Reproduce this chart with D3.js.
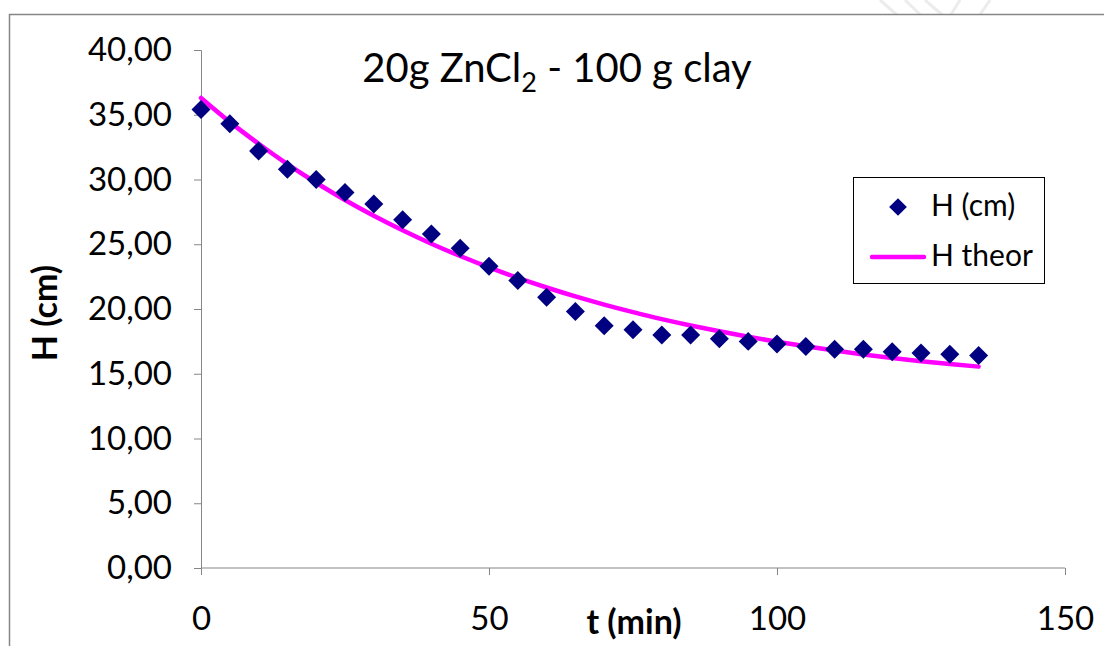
<!DOCTYPE html>
<html><head><meta charset="utf-8">
<script src="https://cdn.jsdelivr.net/npm/d3@7"></script>
<style>
html,body{margin:0;padding:0;background:#fff;}
svg{display:block;}
text{font-family:Lato,"Open Sans",sans-serif;fill:#000;}
</style></head>
<body>
<svg id="chart" width="1104" height="646"></svg>
<script>
const times = [0,5,10,15,20,25,30,35,40,45,50,55,60,65,70,75,80,85,90,95,100,105,110,115,120,125,130,135];
const hMeasured = [35.4,34.3,32.2,30.8,30.0,29.0,28.1,26.9,25.8,24.7,23.3,22.2,20.9,19.8,18.7,18.4,18.0,18.0,17.7,17.5,17.3,17.1,16.9,16.9,16.7,16.6,16.5,16.4];
const hTheor = [36.3,34.45,32.76,31.19,29.75,28.42,27.2,26.08,25.04,24.09,23.21,22.4,21.66,20.97,20.34,19.76,19.22,18.73,18.28,17.86,17.47,17.12,16.79,16.49,16.22,15.97,15.75,15.55];
const xTicks = [0,50,100,150];
const yTicks = [0,5,10,15,20,25,30,35,40];
const seriesNames = ["H (cm)","H theor"];

const svg = d3.select("#chart");
const axisColor = "#868686";

// top faint watermark
const wm = svg.append("g").attr("stroke","#d9d9d9").attr("stroke-width",3).attr("fill","none");
[[880,0,905,22],[905,0,930,24],[960,0,945,24],[990,0,975,22],[925,0,955,26]].forEach(d=>{
  wm.append("line").attr("x1",d[0]).attr("y1",d[1]).attr("x2",d[2]).attr("y2",d[3]).attr("opacity",0.5);
});

// chart frame
svg.append("rect").attr("x",9.5).attr("y",14.5).attr("width",1200).attr("height",700)
  .attr("fill","#fff").attr("stroke",axisColor).attr("stroke-width",1.5);

const x = d3.scaleLinear().domain([0,150]).range([201,1065]);
const y = d3.scaleLinear().domain([0,40]).range([568,50]);

// y axis
const yAxis = svg.append("g").attr("transform","translate(201,0)")
  .call(d3.axisLeft(y).tickValues(yTicks).tickSize(7).tickPadding(22)
    .tickFormat(d=>d3.format(".2f")(d).replace(".",",")));
yAxis.selectAll("path,line").attr("stroke",axisColor);
yAxis.selectAll("text").attr("font-size",33).attr("font-family","Lato, sans-serif").attr("fill","#000");

// x axis
const xAxis = svg.append("g").attr("transform","translate(0,568)")
  .call(d3.axisBottom(x).tickValues(xTicks).tickSize(7).tickSizeOuter(0).tickPadding(0)
    .tickFormat(d3.format("d")));
xAxis.selectAll("path,line").attr("stroke",axisColor);
xAxis.select(".domain").attr("d","M201,0H1065");
xAxis.selectAll("text").attr("font-size",33).attr("font-family","Lato, sans-serif").attr("fill","#000")
  .attr("dy",null).attr("y",null).attr("transform","translate(0,54)").attr("dominant-baseline","middle");

// theoretical line
const line = d3.line().x((d,i)=>x(times[i])).y(d=>y(d)).curve(d3.curveMonotoneX);
svg.append("path").datum(hTheor).attr("d",line).attr("fill","none")
  .attr("stroke","#ff00ff").attr("stroke-width",4.5).attr("stroke-linecap","round");

// measured points (diamonds)
const diamond = d3.symbol().type(d3.symbolDiamond2).size(230);
svg.append("g").selectAll("path").data(hMeasured).join("path")
  .attr("d",diamond)
  .attr("transform",(d,i)=>`translate(${x(times[i])},${y(d)})`)
  .attr("fill","#000080");

// title
const title = svg.append("text").attr("x",557).attr("y",82).attr("text-anchor","middle")
  .attr("font-size",40);
title.append("tspan").text("20g ZnCl");
title.append("tspan").attr("font-size",27).attr("dy",10).text("2");
title.append("tspan").attr("dy",-10).text(" - 100 g clay");

// axis titles
svg.append("text").attr("x",634).attr("y",625).attr("text-anchor","middle")
  .attr("dominant-baseline","middle").attr("font-size",34).attr("font-weight","bold").text("t (min)");
svg.append("text").attr("transform","translate(48,313) rotate(-90)").attr("text-anchor","middle")
  .attr("dominant-baseline","middle").attr("font-size",34).attr("font-weight","bold").text("H (cm)");

// legend
const lg = svg.append("g");
lg.append("rect").attr("x",853.5).attr("y",177.5).attr("width",191).attr("height",106)
  .attr("fill","#fff").attr("stroke","#000").attr("stroke-width",1);
lg.append("path").attr("d",d3.symbol().type(d3.symbolDiamond2).size(200)())
  .attr("transform","translate(898,207)").attr("fill","#000080");
lg.append("line").attr("x1",872).attr("x2",924).attr("y1",257).attr("y2",257)
  .attr("stroke","#ff00ff").attr("stroke-width",4.5).attr("stroke-linecap","round");
lg.selectAll("text.lt").data(seriesNames).join("text").attr("class","lt")
  .attr("x",931).attr("y",(d,i)=>i?258:208).attr("dominant-baseline","middle")
  .attr("font-size",30).text(d=>d);
</script>
</body></html>
